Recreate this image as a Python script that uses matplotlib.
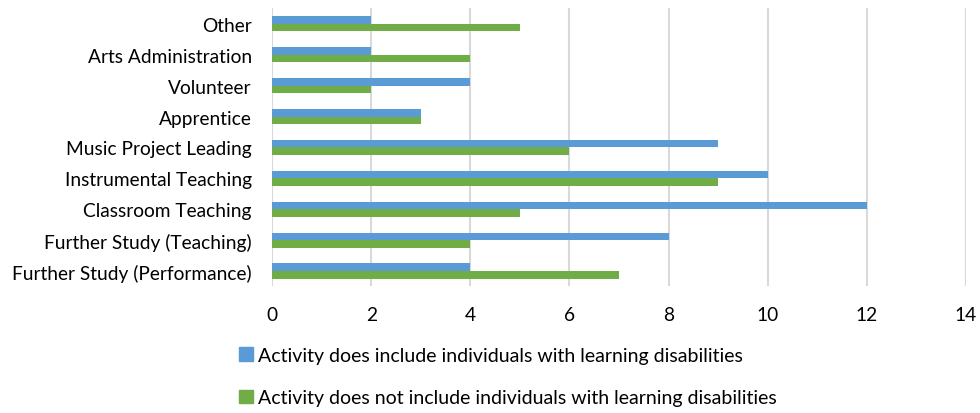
import matplotlib.pyplot as plt
import numpy as np
from matplotlib.patches import Patch

plt.rcParams['font.family'] = ['Lato', 'DejaVu Sans']

# Data (bottom to top)
categories = ["Further Study (Performance)", "Further Study (Teaching)", "Classroom Teaching",
              "Instrumental Teaching", "Music Project Leading", "Apprentice", "Volunteer",
              "Arts Administration", "Other"]
includes_ld = [4, 8, 12, 10, 9, 3, 4, 2, 2]
excludes_ld = [7, 4, 5, 9, 6, 3, 2, 4, 5]
label_inc = "Activity does include individuals with learning disabilities"
label_exc = "Activity does not include individuals with learning disabilities"

blue = "#5B9BD5"
green = "#70AD47"

fig = plt.figure(figsize=(9.8, 4.14), dpi=100)
ax = fig.add_axes([0.2776, 0.3056, 0.7081, 0.6715])

y = np.arange(len(categories))
h = 0.245
ax.barh(y + h / 2, includes_ld, height=h, color=blue, zorder=3)
ax.barh(y - h / 2, excludes_ld, height=h, color=green, zorder=3)

ax.set_xlim(0, 14)
ax.set_ylim(-0.5, len(categories) - 0.5)
ax.set_xticks(range(0, 15, 2))
ax.set_yticks(y)
ax.set_yticklabels(categories)
ax.tick_params(axis='both', length=0, labelsize=13.8, colors="#000000")
ax.tick_params(axis='x', pad=14)
ax.tick_params(axis='y', pad=14.5)
for s in ax.spines.values():
    s.set_visible(False)
ax.grid(axis='x', color="#D9D9D9", linewidth=1.5, zorder=0)

handles = [Patch(color=blue, label=label_inc), Patch(color=green, label=label_exc)]
fig.legend(handles=handles, loc='upper left', bbox_to_anchor=(0.236, 0.178),
           frameon=False, fontsize=14, handlelength=0.7, handleheight=0.7,
           handletextpad=0.25, labelspacing=1.3, borderaxespad=0)

fig.savefig("out.png", dpi=100)
